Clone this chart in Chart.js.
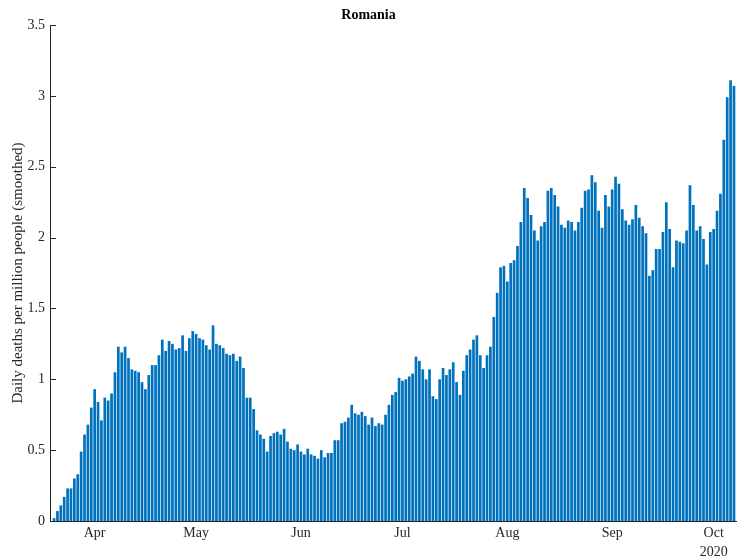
<!DOCTYPE html>
<html>
<head>
<meta charset="utf-8">
<script src="https://cdn.jsdelivr.net/npm/chart.js@4/dist/chart.umd.min.js"></script>
<style>
  body { margin: 0; background: #fff; }
  #wrap { width: 737px; height: 559px; }
</style>
</head>
<body>
<div id="wrap"><canvas id="deathsChart" width="737" height="559"></canvas></div>
<script>
// first bar is 20 Mar 2020, one bar per day
const startDate = '2020-03-20';
const deathsPerMillion = [
    0.02, 0.07, 0.11, 0.17, 0.23, 0.23, 0.30, 0.33, 0.49, 0.61, 0.68, 0.80, 0.93, 0.84, 0.71, 0.87, 0.85, 0.90, 1.05, 1.23, 1.19, 1.23, 1.15, 1.07, 1.06, 1.05, 0.98, 0.93,
    1.03, 1.10, 1.10, 1.17, 1.28, 1.20, 1.27, 1.25, 1.21, 1.22, 1.31, 1.20, 1.29, 1.34, 1.32, 1.29, 1.28, 1.24, 1.21, 1.38, 1.25, 1.24, 1.22, 1.18, 1.17, 1.18, 1.13, 1.16,
    1.08, 0.87, 0.87, 0.79, 0.64, 0.61, 0.58, 0.49, 0.60, 0.62, 0.63, 0.61, 0.65, 0.56, 0.51, 0.50, 0.54, 0.49, 0.47, 0.51, 0.47, 0.46, 0.44, 0.50, 0.45, 0.48, 0.48, 0.57,
    0.57, 0.69, 0.70, 0.73, 0.82, 0.76, 0.75, 0.77, 0.74, 0.68, 0.73, 0.67, 0.69, 0.68, 0.75, 0.82, 0.89, 0.91, 1.01, 0.99, 1.00, 1.02, 1.04, 1.16, 1.13, 1.07, 1.00, 1.07,
    0.88, 0.86, 1.00, 1.08, 1.03, 1.07, 1.12, 0.98, 0.89, 1.06, 1.17, 1.21, 1.28, 1.31, 1.17, 1.08, 1.17, 1.23, 1.44, 1.61, 1.79, 1.80, 1.69, 1.82, 1.84, 1.94, 2.11, 2.35,
    2.28, 2.16, 2.05, 1.98, 2.08, 2.11, 2.33, 2.35, 2.30, 2.22, 2.09, 2.07, 2.12, 2.11, 2.05, 2.11, 2.21, 2.33, 2.34, 2.44, 2.39, 2.19, 2.07, 2.30, 2.22, 2.34, 2.43, 2.38,
    2.20, 2.12, 2.09, 2.13, 2.23, 2.14, 2.08, 2.03, 1.73, 1.77, 1.92, 1.92, 2.04, 2.25, 2.06, 1.79, 1.98, 1.97, 1.96, 2.05, 2.37, 2.23, 2.05, 2.08, 1.99, 1.81, 2.04, 2.06,
    2.19, 2.31, 2.69, 2.99, 3.11, 3.07
];
const monthStarts = ['2020-04-01', '2020-05-01', '2020-06-01', '2020-07-01', '2020-08-01', '2020-09-01', '2020-10-01'];
const monthLabels = ['Apr', 'May', 'Jun', 'Jul', 'Aug', 'Sep', ['Oct', '2020']];
const yTicks = [0, 0.5, 1, 1.5, 2, 2.5, 3, 3.5];

const DAY = 86400000;
const dayIndex = d => Math.round((Date.parse(d) - Date.parse(startDate)) / DAY);
const monthTicks = monthStarts.map(dayIndex);

const axisColor = '#262626';
const serif = 'Liberation Serif, Times New Roman, serif';

// MATLAB-style inward tick marks on the y axis
const inwardTicks = {
    id: 'inwardTicks',
    afterDraw(chart) {
        const y = chart.scales.y;
        const left = chart.chartArea.left;
        const c = chart.ctx;
        c.save();
        c.strokeStyle = axisColor;
        c.lineWidth = 1;
        y.ticks.forEach(t => {
            const py = Math.round(y.getPixelForValue(t.value)) + 0.5;
            c.beginPath();
            c.moveTo(left, py);
            c.lineTo(left + 6, py);
            c.stroke();
        });
        c.restore();
    }
};

const ctx = document.getElementById('deathsChart').getContext('2d');
const chart = new Chart(ctx, {
    type: 'bar',
    data: {
        datasets: [{
            data: deathsPerMillion.map((v, i) => ({ x: i, y: v })),
            backgroundColor: '#0072BD',
            borderWidth: 0,
            barPercentage: 0.8,
            categoryPercentage: 1
        }]
    },
    options: {
        responsive: false,
        animation: false,
        layout: { padding: 0 },
        scales: {
            x: {
                type: 'linear',
                min: -1.2,
                max: 201.9,
                offset: false,
                grid: { display: false, drawTicks: false },
                border: { color: axisColor, width: 1 },
                afterBuildTicks: s => { s.ticks = monthTicks.map(v => ({ value: v })); },
                afterFit: s => { s.height = 38; },
                ticks: {
                    autoSkip: false,
                    maxRotation: 0,
                    padding: 3,
                    color: axisColor,
                    font: { family: serif, size: 14, lineHeight: 1.35 },
                    callback: v => monthLabels[monthTicks.indexOf(v)]
                }
            },
            y: {
                min: 0,
                max: 3.5,
                grid: { display: false, drawTicks: false },
                border: { color: axisColor, width: 1 },
                afterBuildTicks: s => { s.ticks = yTicks.map(v => ({ value: v })); },
                afterFit: s => { s.width = 50; },
                ticks: {
                    padding: 5,
                    color: axisColor,
                    font: { family: serif, size: 14 },
                    callback: v => String(v)
                },
                title: {
                    display: true,
                    text: 'Daily deaths per million people (smoothed)',
                    color: axisColor,
                    font: { family: serif, size: 15 },
                    padding: { top: 9, bottom: 0 }
                }
            }
        },
        plugins: {
            legend: { display: false },
            tooltip: { enabled: false },
            title: {
                display: true,
                text: 'Romania',
                color: '#000',
                font: { family: serif, size: 14, weight: 'bold' },
                padding: { top: 7, bottom: 1.2 }
            }
        }
    },
    plugins: [inwardTicks]
});
</script>
</body>
</html>
